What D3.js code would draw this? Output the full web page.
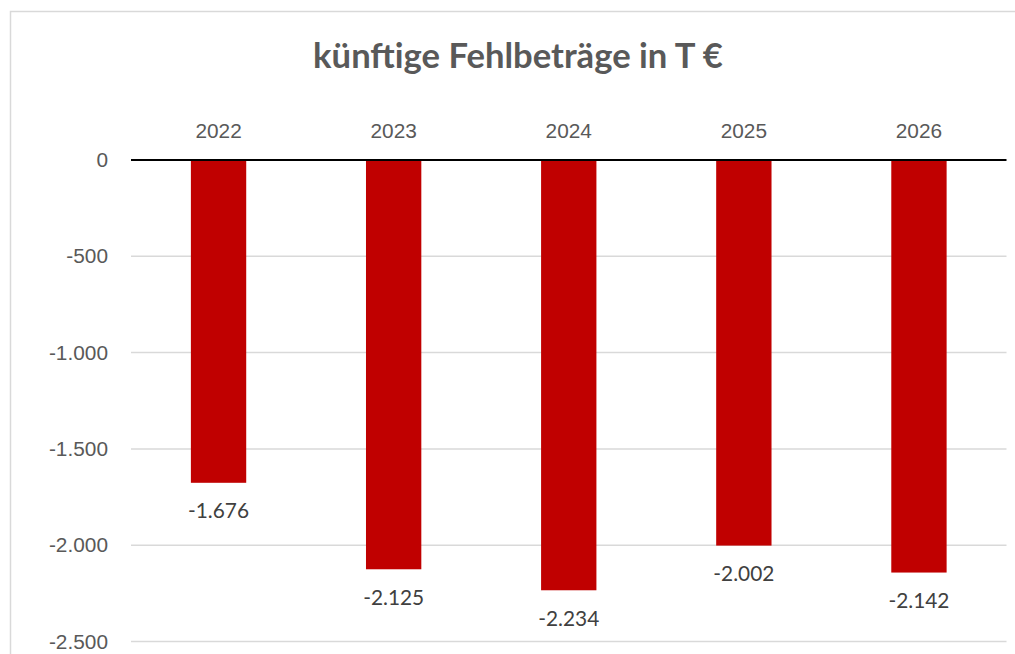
<!DOCTYPE html>
<html>
<head>
<meta charset="utf-8">
<script src="https://cdn.jsdelivr.net/npm/d3@7"></script>
<style>
  html, body { margin: 0; padding: 0; background: #fff; }
  svg { display: block; font-family: Lato, "Noto Sans", sans-serif; }
</style>
</head>
<body>
<div id="chart-container"></div>
<script>
// Data
const years = ['2022', '2023', '2024', '2025', '2026']
const deficits = [-1676, -2125, -2234, -2002, -2142]
const yTicks = [0, -500, -1000, -1500, -2000, -2500]
const chartTitle = 'künftige Fehlbeträge in T €'

const width = 1015
const height = 654
const plotLeft = 131
const plotRight = 1006.5
const zeroY = 160
const bottomY = 641.5
const barColor = '#c00000'
const textColor = '#595959'
const labelColor = '#404040'
const gridColor = '#d9d9d9'

// German number format: -1.500
const de = d3.formatLocale({ decimal: ',', thousands: '.', grouping: [3], currency: ['', ' €'], minus: '-' })
const fmt = de.format(',d')

const svg = d3.select('#chart-container')
    .append('svg')
    .attr('width', width)
    .attr('height', height)

// fit a font size so a sample string gets the wanted width
function fitSize(sample, targetWidth, weight) {
    const t = svg.append('text')
        .attr('font-size', 100)
        .attr('font-weight', weight)
        .text(sample)
    const w = t.node().getComputedTextLength()
    t.remove()
    return 100 * targetWidth / w
}
const labelSize = fitSize('-1.500', 61, 'normal')
const titleSize = fitSize(chartTitle, 410, 'bold')

// chart border
svg.append('rect')
    .attr('x', 10.5)
    .attr('y', 11.5)
    .attr('width', 1100)
    .attr('height', 800)
    .attr('fill', 'none')
    .attr('stroke', gridColor)
    .attr('stroke-width', 1.5)

const xScale = d3.scaleBand()
    .domain(years)
    .range([plotLeft, plotRight])
    .paddingInner(0.684)
    .paddingOuter(0.342)

const yScale = d3.scaleLinear()
    .domain([-2500, 0])
    .range([bottomY, zeroY])

// gridlines
svg.append('g')
    .selectAll('line')
    .data(yTicks.filter(d => d !== 0))
    .enter()
    .append('line')
    .attr('x1', plotLeft)
    .attr('x2', plotRight)
    .attr('y1', d => yScale(d))
    .attr('y2', d => yScale(d))
    .attr('stroke', gridColor)
    .attr('stroke-width', 1.5)

// y axis labels
const yAxis = d3.axisLeft(yScale)
    .tickValues(yTicks)
    .tickFormat(fmt)
    .tickSize(0)
    .tickPadding(23)
const yG = svg.append('g')
    .attr('transform', 'translate(' + plotLeft + ',0)')
    .call(yAxis)
yG.select('.domain').remove()
yG.selectAll('text')
    .attr('font-family', null)
    .attr('font-size', labelSize)
    .attr('fill', textColor)

// bars
svg.selectAll('.bar')
    .data(deficits)
    .enter()
    .append('rect')
    .attr('class', 'bar')
    .attr('x', (d, i) => xScale(years[i]))
    .attr('width', xScale.bandwidth())
    .attr('y', yScale(0))
    .attr('height', d => yScale(d) - yScale(0))
    .attr('fill', barColor)

// zero line
svg.append('line')
    .attr('x1', plotLeft)
    .attr('x2', plotRight)
    .attr('y1', yScale(0))
    .attr('y2', yScale(0))
    .attr('stroke', '#000')
    .attr('stroke-width', 2)

// category labels on top
const xAxis = d3.axisTop(xScale)
    .tickSize(0)
    .tickPadding(22)
const xG = svg.append('g')
    .attr('transform', 'translate(0,' + yScale(0) + ')')
    .call(xAxis)
xG.select('.domain').remove()
xG.selectAll('text')
    .attr('font-family', null)
    .attr('font-size', labelSize)
    .attr('fill', textColor)

// data labels
svg.selectAll('.value-label')
    .data(deficits)
    .enter()
    .append('text')
    .attr('class', 'value-label')
    .attr('x', (d, i) => xScale(years[i]) + xScale.bandwidth() / 2)
    .attr('y', d => yScale(d) + 28)
    .attr('dy', '0.35em')
    .attr('text-anchor', 'middle')
    .attr('font-size', labelSize)
    .attr('fill', labelColor)
    .text(d => fmt(d))

// title
svg.append('text')
    .attr('x', 518)
    .attr('y', 68)
    .attr('text-anchor', 'middle')
    .attr('font-size', titleSize)
    .attr('font-weight', 'bold')
    .attr('fill', textColor)
    .text(chartTitle)
</script>
</body>
</html>
